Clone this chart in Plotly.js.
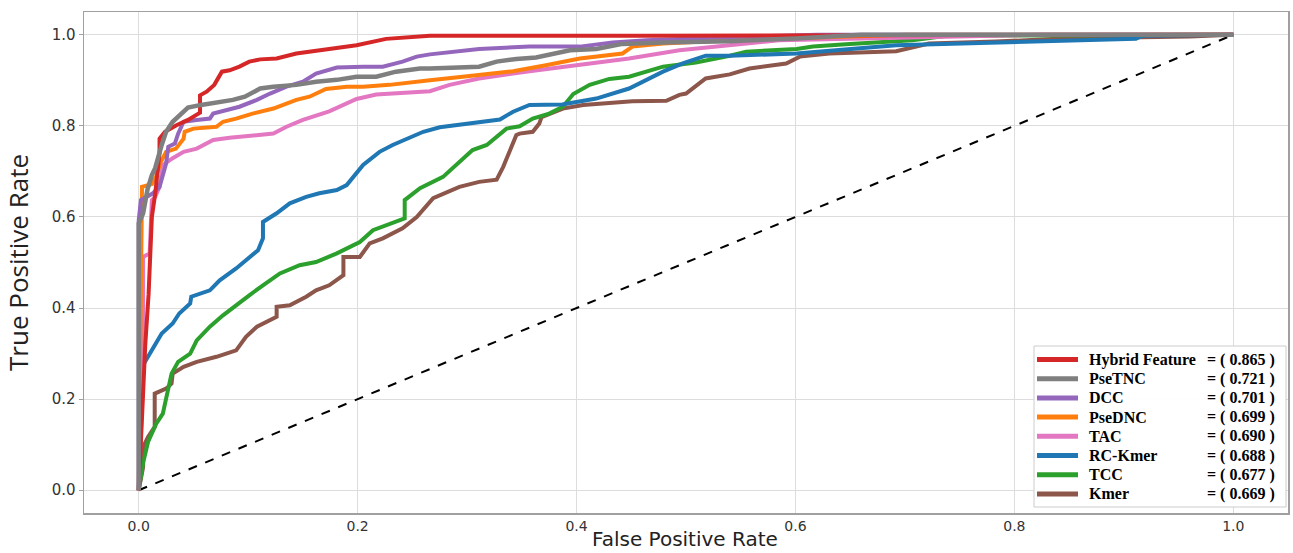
<!DOCTYPE html>
<html>
<head>
<meta charset="utf-8">
<script src="https://cdn.plot.ly/plotly-3.0.1.min.js"></script>
<style>html,body{margin:0;padding:0;background:#fff;}#chart{width:1293px;height:553px;}</style>
</head>
<body>
<div id="chart"></div>
<script>
// ---- data ----
const legendNames = ["Hybrid Feature", "PseTNC", "DCC", "PseDNC", "TAC", "RC-Kmer", "TCC", "Kmer"];
const aucValues = ["0.865", "0.721", "0.701", "0.699", "0.690", "0.688", "0.677", "0.669"];
const lineColors = ["#d62728", "#7f7f7f", "#9467bd", "#ff7f0e", "#e377c2", "#1f77b4", "#2ca02c", "#8c564b"];
const xTitle = "False Positive Rate";
const yTitle = "True Positive Rate";

const hybridFpr = [0,0.006,0.009,0.010,0.012,0.015,0.017,0.019,0.019,0.024,0.034,0.045,0.056,0.056,0.062,0.069,0.076,0.083,0.092,0.101,0.111,0.126,0.144,0.174,0.199,0.226,0.248,0.266,0.46,1.0];
const hybridTpr = [0,0.32,0.43,0.50,0.60,0.65,0.70,0.74,0.772,0.787,0.801,0.813,0.829,0.867,0.875,0.890,0.919,0.922,0.930,0.941,0.946,0.948,0.959,0.969,0.977,0.991,0.996,0.998,0.998,1.0];

const pseTncFpr = [0,0,0.004,0.008,0.012,0.015,0.021,0.025,0.031,0.045,0.057,0.074,0.086,0.097,0.111,0.123,0.144,0.162,0.181,0.199,0.217,0.235,0.257,0.266,0.311,0.327,0.345,0.363,0.394,0.418,0.442,0.479,0.540,0.600,0.660,1.0];
const pseTncTpr = [0,0.586,0.608,0.66,0.692,0.707,0.758,0.787,0.809,0.840,0.846,0.852,0.857,0.864,0.882,0.886,0.890,0.897,0.901,0.908,0.908,0.919,0.926,0.926,0.930,0.941,0.947,0.950,0.966,0.969,0.980,0.983,0.986,0.992,1.0,1.0];

const dccFpr = [0,0,0.002,0.013,0.019,0.025,0.027,0.033,0.036,0.039,0.041,0.053,0.065,0.068,0.083,0.092,0.108,0.120,0.135,0.150,0.162,0.181,0.205,0.223,0.241,0.254,0.266,0.311,0.357,0.403,0.433,0.464,0.540,0.62,1.0];
const dccTpr = [0,0.593,0.637,0.652,0.666,0.717,0.754,0.761,0.783,0.798,0.809,0.813,0.816,0.827,0.837,0.842,0.857,0.871,0.886,0.897,0.915,0.928,0.930,0.930,0.941,0.952,0.957,0.969,0.974,0.974,0.983,0.988,0.995,1.0,1.0];

const pseDncFpr = [0,0.003,0.003,0.012,0.016,0.020,0.025,0.034,0.041,0.042,0.050,0.071,0.077,0.089,0.104,0.123,0.144,0.156,0.171,0.190,0.205,0.229,0.251,0.266,0.296,0.342,0.372,0.403,0.442,0.451,0.479,0.540,0.62,0.70,1.0];
const pseDncTpr = [0,0.55,0.666,0.672,0.69,0.72,0.743,0.750,0.772,0.787,0.794,0.798,0.809,0.816,0.827,0.838,0.857,0.864,0.881,0.886,0.886,0.890,0.897,0.900,0.908,0.920,0.933,0.948,0.959,0.974,0.981,0.988,0.994,1.0,1.0];

const tacFpr = [0,0.004,0.004,0.010,0.012,0.015,0.019,0.022,0.031,0.041,0.053,0.068,0.083,0.123,0.135,0.150,0.174,0.199,0.217,0.235,0.266,0.284,0.311,0.357,0.403,0.448,0.494,0.540,0.585,0.661,0.752,0.82,1.0];
const tacTpr = [0,0.256,0.512,0.52,0.637,0.644,0.666,0.714,0.729,0.743,0.750,0.769,0.774,0.783,0.798,0.813,0.832,0.859,0.869,0.871,0.876,0.890,0.904,0.920,0.935,0.948,0.966,0.976,0.988,0.992,0.996,1.0,1.0];

const rcKmerFpr = [0,0.002,0.004,0.010,0.021,0.031,0.037,0.047,0.048,0.065,0.074,0.089,0.104,0.109,0.1135,0.1135,0.126,0.138,0.153,0.165,0.181,0.190,0.205,0.220,0.232,0.245,0.260,0.275,0.299,0.330,0.342,0.357,0.387,0.418,0.448,0.479,0.497,0.518,0.540,0.601,0.692,0.814,0.911,0.917,1.0];
const rcKmerTpr = [0,0.245,0.275,0.300,0.344,0.366,0.388,0.410,0.425,0.439,0.461,0.487,0.516,0.527,0.553,0.589,0.608,0.630,0.644,0.652,0.659,0.670,0.714,0.743,0.758,0.772,0.787,0.797,0.805,0.814,0.831,0.846,0.847,0.860,0.882,0.919,0.937,0.954,0.954,0.959,0.977,0.985,0.991,0.998,1.0];

const tccFpr = [0,0.004,0.0085,0.016,0.022,0.024,0.028,0.030,0.036,0.047,0.053,0.065,0.077,0.092,0.101,0.1135,0.129,0.147,0.162,0.181,0.202,0.214,0.235,0.243,0.243,0.257,0.278,0.290,0.305,0.318,0.336,0.348,0.360,0.375,0.3875,0.397,0.412,0.430,0.448,0.479,0.509,0.540,0.555,0.601,0.616,0.646,0.707,0.738,1.0];
const tccTpr = [0,0.06,0.106,0.146,0.168,0.190,0.242,0.256,0.282,0.300,0.329,0.359,0.384,0.410,0.428,0.450,0.476,0.494,0.501,0.520,0.545,0.571,0.589,0.597,0.637,0.663,0.688,0.714,0.747,0.758,0.794,0.799,0.816,0.827,0.842,0.870,0.890,0.903,0.908,0.930,0.939,0.954,0.963,0.969,0.974,0.979,0.988,0.998,1.0];

const kmerFpr = [0,0.004,0.004,0.0085,0.0146,0.0146,0.025,0.030,0.031,0.041,0.053,0.071,0.089,0.098,0.108,0.126,0.126,0.138,0.153,0.162,0.174,0.187,0.187,0.202,0.211,0.223,0.241,0.254,0.269,0.293,0.311,0.327,0.333,0.345,0.348,0.360,0.366,0.368,0.3875,0.406,0.451,0.482,0.494,0.500,0.518,0.540,0.558,0.5915,0.604,0.631,0.692,0.722,0.783,0.844,0.960,1.0];
const kmerTpr = [0,0.051,0.095,0.117,0.139,0.212,0.223,0.234,0.256,0.271,0.282,0.293,0.307,0.337,0.359,0.381,0.403,0.406,0.425,0.439,0.450,0.472,0.512,0.512,0.542,0.553,0.575,0.600,0.641,0.666,0.677,0.682,0.710,0.780,0.783,0.787,0.805,0.819,0.838,0.846,0.854,0.855,0.868,0.871,0.904,0.913,0.926,0.937,0.952,0.959,0.964,0.981,0.985,0.992,0.996,1.0];

const chanceFpr = [0, 1];
const chanceTpr = [0, 1];

const tickValues = [0, 0.2, 0.4, 0.6, 0.8, 1.0];

// ---- traces ----
const seriesX = [hybridFpr, pseTncFpr, dccFpr, pseDncFpr, tacFpr, rcKmerFpr, tccFpr, kmerFpr];
const seriesY = [hybridTpr, pseTncTpr, dccTpr, pseDncTpr, tacTpr, rcKmerTpr, tccTpr, kmerTpr];
const drawOrder = [7, 6, 5, 4, 3, 2, 0, 1];

const traces = [{
  x: chanceFpr, y: chanceTpr, mode: 'lines', showlegend: false, hoverinfo: 'skip',
  line: {color: '#000000', width: 2, dash: 'dash'}
}];
drawOrder.forEach(i => {
  traces.push({
    x: seriesX[i], y: seriesY[i], mode: 'lines', name: legendNames[i], showlegend: false,
    line: {color: lineColors[i], width: i === 1 ? 4.5 : 4}
  });
});

// ---- manual legend (matplotlib-style box) ----
const L = 84, R = 1288, T = 12, B = 513;
const px = v => (v - L) / (R - L);
const py = v => (B - v) / (B - T);
const shapes = [{
  type: 'rect', xref: 'paper', yref: 'paper',
  x0: px(1034), x1: px(1286), y0: py(507), y1: py(346),
  line: {color: '#cccccc', width: 1}, fillcolor: 'rgba(255,255,255,0.95)', layer: 'above'
}];
const annotations = [];
legendNames.forEach((n, i) => {
  const rowY = 359.5 + 19.2 * i;
  shapes.push({
    type: 'line', xref: 'paper', yref: 'paper', layer: 'above',
    x0: px(1037), x1: px(1078), y0: py(rowY), y1: py(rowY),
    line: {color: lineColors[i], width: 5}
  });
  annotations.push({
    xref: 'paper', yref: 'paper', x: px(1087), y: py(rowY), xanchor: 'left', yanchor: 'middle',
    text: '<b>' + n + '</b>', showarrow: false,
    font: {family: 'Liberation Serif, Times New Roman, serif', size: 16, color: '#000'}
  });
  annotations.push({
    xref: 'paper', yref: 'paper', x: px(1277), y: py(rowY), xanchor: 'right', yanchor: 'middle',
    text: '<b>= ( ' + aucValues[i] + ' )</b>', showarrow: false,
    font: {family: 'Liberation Serif, Times New Roman, serif', size: 16, color: '#000'}
  });
});
// x-axis title, placed just under the tick labels, between the 0.4 and 0.6 labels
annotations.push({
  xref: 'paper', yref: 'paper', x: px(685), y: py(553), xanchor: 'center', yanchor: 'bottom',
  text: xTitle, showarrow: false,
  font: {family: 'DejaVu Sans, sans-serif', size: 20, color: '#222222'}
});

const axisCommon = {
  range: [-0.05, 1.05], tickvals: tickValues, tickformat: '.1f',
  showgrid: true, gridcolor: '#dddddd', gridwidth: 1, zeroline: false,
  showline: true, linecolor: '#a0a0a0', linewidth: 1.5, mirror: true,
  ticks: 'outside', ticklen: 4, tickcolor: '#a0a0a0', automargin: false,
  tickfont: {family: 'DejaVu Sans, sans-serif', size: 15, color: '#333333'}
};

const layout = {
  width: 1293, height: 553,
  margin: {l: L, r: 1293 - R, t: T, b: 553 - B},
  paper_bgcolor: '#ffffff', plot_bgcolor: '#ffffff',
  showlegend: false,
  xaxis: Object.assign({}, axisCommon, {
    ticks: '',
    tickfont: {family: 'DejaVu Sans, sans-serif', size: 14, color: '#333333'},
    title: {text: ''}
  }),
  yaxis: Object.assign({}, axisCommon, {
    title: {text: yTitle,
      font: {family: 'Open Sans, sans-serif', size: 26, color: '#222222'}}
  }),
  shapes: shapes,
  annotations: annotations
};

Plotly.newPlot('chart', traces, layout, {displayModeBar: false, staticPlot: true});
</script>
</body>
</html>
